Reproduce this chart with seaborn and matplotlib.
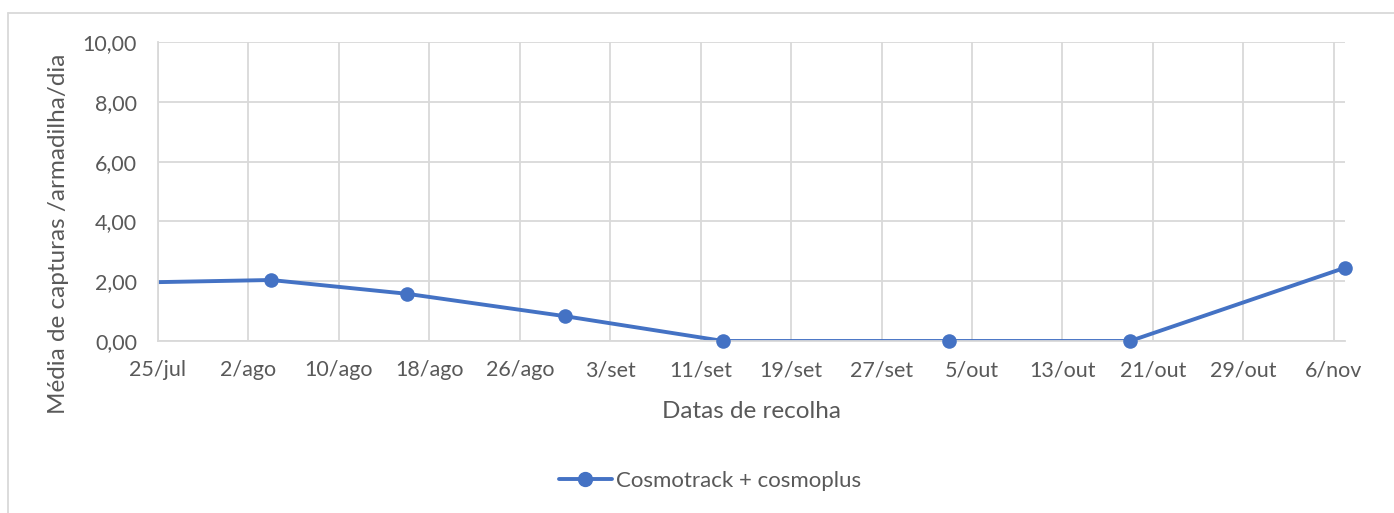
import matplotlib
matplotlib.use("Agg")
import matplotlib.pyplot as plt
import matplotlib.dates as mdates
import seaborn as sns
import pandas as pd
from matplotlib.lines import Line2D

# ---- data ----
dates = ["2021-07-21", "2021-08-04", "2021-08-16", "2021-08-30", "2021-09-13",
         "2021-10-03", "2021-10-19", "2021-11-07"]
values = [1.94, 2.04, 1.58, 0.83, 0.00, 0.00, 0.00, 2.45]
series_name = "Cosmotrack + cosmoplus"
tick_dates = ["2021-07-25", "2021-08-02", "2021-08-10", "2021-08-18", "2021-08-26",
              "2021-09-03", "2021-09-11", "2021-09-19", "2021-09-27", "2021-10-05",
              "2021-10-13", "2021-10-21", "2021-10-29", "2021-11-06"]
tick_labels = ["25/jul", "2/ago", "10/ago", "18/ago", "26/ago", "3/set", "11/set",
               "19/set", "27/set", "5/out", "13/out", "21/out", "29/out", "6/nov"]
y_ticks = [0, 2, 4, 6, 8, 10]
y_tick_labels = ["0,00", "2,00", "4,00", "6,00", "8,00", "10,00"]
x_min, x_max = "2021-07-25", "2021-11-07"

df = pd.DataFrame({"data": pd.to_datetime(dates), "valor": values})

sns.set_theme(style="white")
plt.rcParams["font.family"] = ["Lato", "DejaVu Sans"]

W, H = 1394, 513
fig = plt.figure(figsize=(W / 100, H / 100), dpi=100)
ax = fig.add_axes([158 / W, 1 - 341 / H, (1345 - 158) / W, (341 - 42) / H])

blue = "#4472C4"
grid_c = "#D9D9D9"
text_c = "#595959"

sns.lineplot(data=df, x="data", y="valor", ax=ax, color=blue, linewidth=2.8,
             legend=False)
lo, hi = pd.Timestamp(x_min), pd.Timestamp(x_max)
inside = df[(df["data"] >= lo) & (df["data"] <= hi)]
sns.scatterplot(data=inside, x="data", y="valor", ax=ax, color=blue, s=110,
                edgecolor=blue, linewidth=0, zorder=5, clip_on=False, legend=False)

ax.set_xlim(mdates.date2num(lo), mdates.date2num(hi))
ax.set_ylim(0, 10)
ax.set_xticks(mdates.date2num(pd.to_datetime(tick_dates)))
ax.set_xticklabels(tick_labels)
ax.set_yticks(y_ticks)
ax.set_yticklabels(y_tick_labels)

ax.grid(True, color=grid_c, linewidth=1.3)
ax.set_axisbelow(True)
for s in ["top", "right"]:
    ax.spines[s].set_visible(False)
ax.spines["left"].set_color(grid_c)
ax.spines["left"].set_linewidth(1.3)
ax.spines["bottom"].set_color(grid_c)
ax.spines["bottom"].set_linewidth(1.3)

ax.tick_params(axis="x", length=0, pad=14, labelsize=15.5, labelcolor=text_c)
ax.tick_params(axis="y", length=0, pad=15, labelsize=15.5, labelcolor=text_c)

ax.set_xlabel("Datas de recolha", fontsize=17.5, color=text_c)
ax.xaxis.set_label_coords((752 - 158) / (1345 - 158), (341 - 411) / (341 - 42))
ax.xaxis.label.set_va("center")
ax.set_ylabel("Média de capturas /armadilha/dia", fontsize=17.5, color=text_c)
ax.yaxis.set_label_coords((59 - 158) / (1345 - 158), (341 - 234) / (341 - 42))
ax.yaxis.label.set_va("center")

handle = Line2D([], [], color=blue, linewidth=2.8, marker="o", markersize=10)
fig.legend([handle], [series_name], loc="center", bbox_to_anchor=(710 / W, 1 - 481 / H),
           frameon=False, fontsize=16, labelcolor=text_c, handlelength=2.4,
           handletextpad=0.2)

# outer chart border (only top and left visible in the crop)
fig.add_artist(Line2D([8 / W, 1], [1 - 12.5 / H, 1 - 12.5 / H], transform=fig.transFigure,
                      color=grid_c, linewidth=1.3))
fig.add_artist(Line2D([8 / W, 8 / W], [0, 1 - 12.5 / H], transform=fig.transFigure,
                      color=grid_c, linewidth=1.3))

fig.savefig("out.png", dpi=100, facecolor="white")
